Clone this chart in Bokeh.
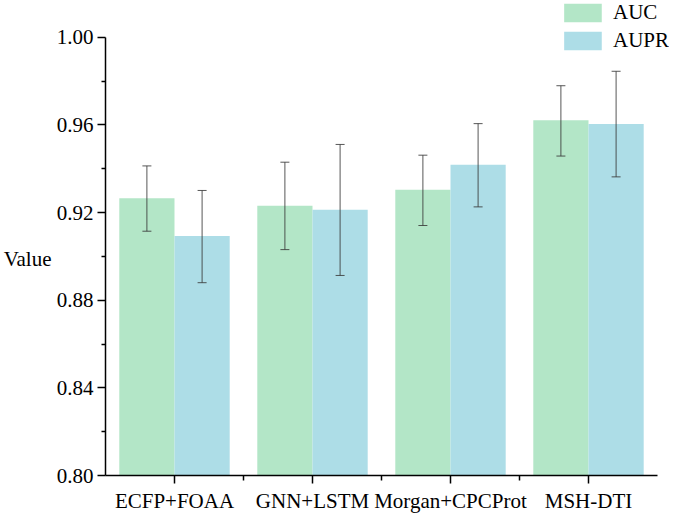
from bokeh.plotting import figure
from bokeh.models import (ColumnDataSource, Range1d, FixedTicker, Whisker, TeeHead,
                          Legend, LegendItem, LinearAxis, NumeralTickFormatter)
from bokeh.embed import file_html
from bokeh.resources import INLINE

categories = ["ECFP+FOAA", "GNN+LSTM", "Morgan+CPCProt", "MSH-DTI"]
auc = [0.9265, 0.9231, 0.9304, 0.9621]
auc_lo = [0.9115, 0.9031, 0.9141, 0.9458]
auc_hi = [0.9413, 0.9430, 0.9462, 0.9779]
aupr = [0.9093, 0.9213, 0.9418, 0.9604]
aupr_lo = [0.8880, 0.8913, 0.9226, 0.9363]
aupr_hi = [0.9301, 0.9511, 0.9606, 0.9845]
y_ticks = [0.80, 0.84, 0.88, 0.92, 0.96, 1.00]
y_minor = [0.82, 0.86, 0.90, 0.94, 0.98]
y_title = "Value"

AUC_COLOR = "#b3e6c7"
AUPR_COLOR = "#addde7"
ERR_COLOR = "#3a3a3a"
FONT = "Liberation Serif"
BW = 0.4

centers = [i + 0.5 for i in range(len(categories))]
src_auc = ColumnDataSource(dict(x=[c - BW / 2 for c in centers], top=auc, lo=auc_lo, hi=auc_hi))
src_aupr = ColumnDataSource(dict(x=[c + BW / 2 for c in centers], top=aupr, lo=aupr_lo, hi=aupr_hi))

p = figure(width=669, height=515, output_backend="svg", toolbar_location=None,
           x_range=Range1d(0, 4.087), y_range=Range1d(0.80, 1.0168),
           min_border_left=0, min_border_right=0, min_border_top=0, min_border_bottom=38)
p.outline_line_color = None
p.xgrid.visible = False
p.ygrid.visible = False

r1 = p.vbar(x="x", top="top", bottom=0.80, width=BW, source=src_auc,
            fill_color=AUC_COLOR, line_color=None)
r2 = p.vbar(x="x", top="top", bottom=0.80, width=BW, source=src_aupr,
            fill_color=AUPR_COLOR, line_color=None)

for src in (src_auc, src_aupr):
    w = Whisker(source=src, base="x", upper="hi", lower="lo", level="overlay",
                line_color=ERR_COLOR, line_width=1, line_alpha=0.85,
                upper_head=TeeHead(size=9, line_color=ERR_COLOR, line_width=1, line_alpha=0.85),
                lower_head=TeeHead(size=9, line_color=ERR_COLOR, line_width=1, line_alpha=0.85))
    p.add_layout(w)

# y axis
ya = p.yaxis[0]
ya.bounds = (0.80, 1.00)
ya.ticker = FixedTicker(ticks=y_ticks, minor_ticks=y_minor)
ya.formatter = NumeralTickFormatter(format="0.00")
ya.axis_line_width = 1.5
ya.axis_line_color = "black"
ya.major_tick_in = 0
ya.major_tick_out = 8
ya.major_tick_line_width = 1.5
ya.minor_tick_in = 0
ya.minor_tick_out = 4
ya.minor_tick_line_width = 1.5
ya.major_label_standoff = 4
ya.major_label_text_font = FONT
ya.major_label_text_font_size = "21px"
ya.major_label_text_color = "black"

# horizontal "Value" title as an extra, line-less axis on the left
ta = LinearAxis(ticker=FixedTicker(ticks=[0.899]),
                major_label_overrides={0.899: y_title},
                axis_line_color=None, major_tick_line_color=None,
                minor_tick_line_color=None, major_tick_in=0, major_tick_out=0,
                major_label_standoff=2, major_label_text_font=FONT,
                major_label_text_font_size="21px", major_label_text_color="black")
p.add_layout(ta, "left")

# x axis
xa = p.xaxis[0]
xa.bounds = (0, 4)
xa.ticker = FixedTicker(ticks=centers, minor_ticks=[1, 2, 3])
xa.major_label_overrides = {c: name for c, name in zip(centers, categories)}
xa.axis_line_width = 1.5
xa.axis_line_color = "black"
xa.major_tick_in = 0
xa.major_tick_out = 8
xa.major_tick_line_width = 1.5
xa.minor_tick_in = 0
xa.minor_tick_out = 5
xa.minor_tick_line_width = 1.5
xa.major_label_standoff = 5
xa.major_label_text_font = FONT
xa.major_label_text_font_size = "21px"
xa.major_label_text_color = "black"

legend = Legend(items=[LegendItem(label="AUC", renderers=[r1]),
                       LegendItem(label="AUPR", renderers=[r2])],
                location="top_right", orientation="vertical",
                glyph_width=47, glyph_height=23, spacing=3, padding=0, margin=0,
                label_standoff=7, label_text_font=FONT, label_text_font_size="21px",
                label_text_color="black", label_height=23,
                border_line_color=None, background_fill_alpha=0)
p.add_layout(legend)

open("out.html", "w").write(file_html(p, INLINE))
